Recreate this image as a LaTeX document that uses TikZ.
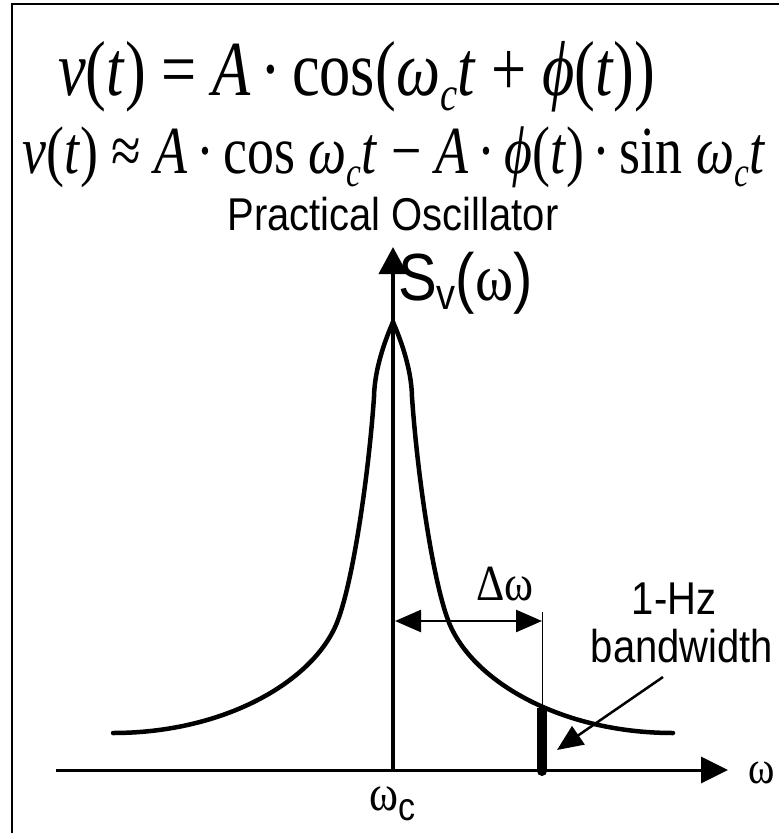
\documentclass[tikz,border=0pt]{standalone}
\usepackage{fontspec}
\setmainfont{Liberation Serif}
\setsansfont{Liberation Sans}
\usetikzlibrary{arrows.meta}
\newcommand\subcc{\raisebox{-0.2em}{\scalebox{0.62}{\itshape c}}}
\newcommand\phii{\textit{ϕ}}
\newcommand\eqline[2]{\scalebox{1}[1.25]{\resizebox{#1}{!}{\fontsize{54}{54}\selectfont #2}}}
\newcommand\tall[1]{\scalebox{1}[1.15]{#1}}
\begin{document}
\begin{tikzpicture}[x=1pt,y=-1pt,
  axisline/.style={line width=4pt},
  curveline/.style={line width=4.5pt, line cap=round},
  lbl/.style={font=\sffamily\fontsize{40}{46}\selectfont, inner sep=0pt},
  sym/.style={font=\rmfamily\fontsize{40}{46}\selectfont, inner sep=0pt},
  eqn/.style={inner sep=0pt}]
\useasboundingbox (0,0) rectangle (779,833);
\clip (0,0) rectangle (779,833);
% frame
\draw[line width=2.5pt] (12,845) -- (12,4) -- (790,4);
% equations
\node[eqn, anchor=base west] (eq1) at (58,95) {\eqline{597pt}{\textit{v}(\textit{t})~=~\textit{A}\,·\,cos(\textit{ω}\subcc\textit{t}~+~\phii(\textit{t}))}};
\node[eqn, anchor=base west] (eq2) at (22,173) {\eqline{743pt}{\textit{v}(\textit{t})~≈~\textit{A}\,·\,cos~\textit{ω}\subcc\textit{t}~−~\textit{A}\,·\,\phii(\textit{t})\,·\,sin~\textit{ω}\subcc\textit{t}}};
% title
\node[lbl, anchor=base] (title) at (393,230) {\tall{Practical Oscillator}};
% axes
\coordinate (O) at (393,770);
\coordinate (Ytip) at (393,247);
\coordinate (Xs) at (56,770);
\coordinate (Xtip) at (728,770);
\draw[line width=3pt, -{Triangle[length=27pt,width=26pt]}] (Xs) -- (Xtip);
\draw[axisline, -{Triangle[length=27pt,width=28pt]}] (O) -- (Ytip);
\node[inner sep=0pt, anchor=base west] (sv) at (398,300) {\tall{\sffamily\fontsize{58}{60}\selectfont S\raisebox{-0.14em}{\fontsize{38}{38}\selectfont v}(\textrm{ω})}};
\node[sym, anchor=west] (wx) at (748,773) {\tall{ω}};
\node[inner sep=0pt, anchor=base west] (wc) at (369,810) {\tall{\rmfamily\fontsize{44}{46}\selectfont ω\raisebox{-0.2em}{\sffamily\fontsize{34}{34}\selectfont c}}};
% spectrum
\draw[curveline] (393,322) .. controls (400,338) and (411.5,368) .. (412,397)
  .. controls (417,470) and (432,577) .. (448,620)
  .. controls (470,680) and (560,733) .. (673,733);
\draw[curveline] (393,322) .. controls (386,338) and (374.5,368) .. (374,397)
  .. controls (369,470) and (354,577) .. (338,620)
  .. controls (316,680) and (226,733) .. (113,733);
% delta omega
\coordinate (D1) at (395,621);
\coordinate (D2) at (542,621);
\coordinate (G1) at (542,612);
\coordinate (G2) at (542,708);
\draw[line width=1pt] (G1) -- (G2);
\draw[line width=2.5pt, {Triangle[length=26pt,width=22pt]}-{Triangle[length=26pt,width=22pt]}] (D1) -- (D2);
\node[sym, anchor=base] (dw) at (505,600) {\tall{\fontsize{44}{46}\selectfont Δω}};
% 1-Hz bandwidth bar
\fill (537,708) rectangle (547,771);
\fill (542,771) circle (5);
\node[lbl, anchor=base] (hz) at (674,614) {\tall{1-Hz}};
\node[lbl, anchor=base] (bw) at (682,662) {\tall{bandwidth}};
\coordinate (P1) at (663,677);
\coordinate (P2) at (557,750);
\draw[line width=2.5pt, -{Triangle[length=26pt,width=22pt]}] (P1) -- (P2);
\end{tikzpicture}
\end{document}
